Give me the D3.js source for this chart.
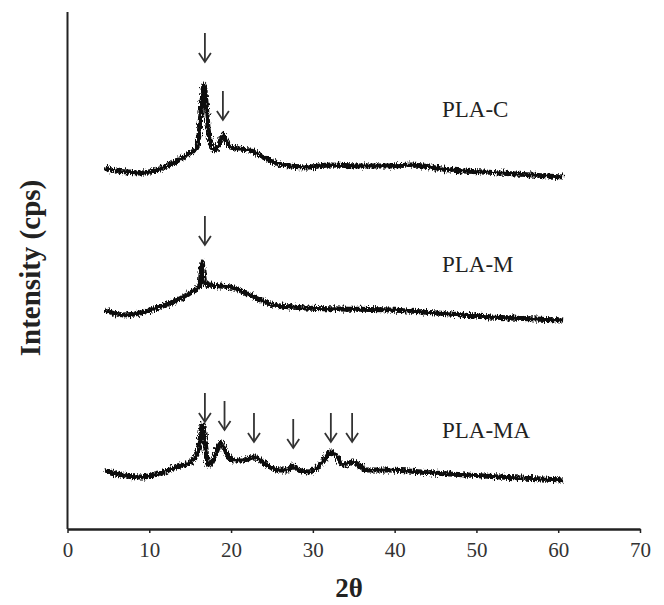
<!DOCTYPE html>
<html>
<head>
<meta charset="utf-8">
<script src="https://cdn.jsdelivr.net/npm/d3@7"></script>
<style>
  body { margin: 0; background: #fff; }
  svg { display: block; }
</style>
</head>
<body>
<svg class="xrd" width="664" height="605"></svg>
<script>
// 2theta positions and plotted intensities (arbitrary cps, stacked traces)
const plaC_x = [4.6, 6, 7.5, 8.9, 10.9, 12.9, 14, 15, 15.8, 16.2, 16.5, 16.7, 16.9, 17.2, 17.6, 17.9, 18.5, 19.0, 19.5, 19.9, 21, 22.3, 23.9, 26.3, 29.3, 32.1, 36, 39.4, 42, 46.8, 52.9, 60.6];
const plaC_y = [361, 358, 357, 356, 359, 366, 371, 376, 381, 405, 432, 444, 430, 400, 383, 379, 384, 394, 387, 382, 380, 379, 372, 364, 362, 364, 363, 363, 364, 359, 356, 352];

const plaM_x = [4.6, 6.8, 8.9, 10.9, 12.9, 15, 16.2, 16.45, 16.6, 16.8, 17.4, 19.9, 22.3, 25.2, 29.3, 33.3, 39.4, 43.5, 51.7, 60.6];
const plaM_y = [219, 214, 216, 221, 227, 236, 244, 267, 256, 246, 244, 242, 234, 224, 221, 220, 219, 217, 212, 209];

const plaMA_x = [4.6, 6, 8.9, 11, 13, 15, 15.8, 16.2, 16.5, 16.8, 17.2, 17.7, 18.2, 18.8, 19.3, 20.4, 21.5, 22.8, 24, 25.8, 27, 27.6, 28.3, 29.4, 30.5, 31.5, 32.2, 33, 33.7, 34.4, 34.9, 36.6, 39.4, 44.7, 52.9, 60.6];
const plaMA_y = [59, 55, 52, 55, 61, 67, 74, 89, 104, 89, 64, 67, 77, 86, 77, 69, 69, 72, 66, 59, 59, 63, 59, 57, 61, 71, 77, 72, 64, 66, 67, 59, 59, 56, 52, 49];

const seriesNames = ["PLA-C", "PLA-M", "PLA-MA"];
const labelLevels = [412, 257, 91];

// arrows: 2theta and intensity at the arrow tip
const arrowX = [16.8, 19.0, 16.8, 16.8, 19.2, 22.8, 27.6, 32.2, 34.8];
const arrowTip = [467, 409, 284, 107, 99, 87, 81, 87, 87];

const xTicks = [0, 10, 20, 30, 40, 50, 60, 70];

const svg = d3.select(".xrd");
const X0 = 67.5, X1 = 640, YT = 12, YB = 529;
const INK = "#0a0a0a";

const x = d3.scaleLinear().domain([0, 70]).range([X0, X1]);
const y = d3.scaleLinear().domain([0, 517]).range([YB, YT]);

// fuzzy look of the raw detector trace
const defs = svg.append("defs");
const f = defs.append("filter")
    .attr("id", "noisy")
    .attr("filterUnits", "userSpaceOnUse")
    .attr("x", 0).attr("y", 0).attr("width", 664).attr("height", 605);
f.append("feTurbulence")
    .attr("type", "fractalNoise")
    .attr("baseFrequency", "0.9 0.3")
    .attr("numOctaves", 2)
    .attr("seed", 3)
    .attr("result", "turb");
f.append("feDisplacementMap")
    .attr("in", "SourceGraphic")
    .attr("in2", "turb")
    .attr("scale", 7)
    .attr("xChannelSelector", "R")
    .attr("yChannelSelector", "G");

const line = d3.line()
    .x(d => x(d[0]))
    .y(d => y(d[1]))
    .curve(d3.curveMonotoneX);

const traces = [
    d3.zip(plaC_x, plaC_y),
    d3.zip(plaM_x, plaM_y),
    d3.zip(plaMA_x, plaMA_y)
];

svg.append("g")
    .attr("filter", "url(#noisy)")
    .selectAll("path")
    .data(traces)
    .enter()
    .append("path")
    .attr("d", line)
    .attr("fill", "none")
    .attr("stroke", INK)
    .attr("stroke-width", 5)
    .attr("stroke-linejoin", "round");

// series labels
svg.append("g")
    .selectAll("text")
    .data(seriesNames)
    .enter()
    .append("text")
    .attr("x", 442)
    .attr("y", (d, i) => y(labelLevels[i]))
    .text(d => d)
    .style("font-family", "'Liberation Serif', serif")
    .style("font-size", "23px")
    .style("fill", "#222");

// peak arrows
const arrows = svg.append("g")
    .attr("stroke", "#333")
    .attr("stroke-width", 1.8)
    .attr("fill", "none");
arrowX.forEach((a, i) => {
    const ax = x(a), ay = y(arrowTip[i]);
    arrows.append("line")
        .attr("x1", ax).attr("x2", ax)
        .attr("y1", ay - 29).attr("y2", ay);
    arrows.append("path")
        .attr("d", `M${ax - 6},${ay - 9}L${ax},${ay}L${ax + 6},${ay - 9}`);
});

// axes
svg.append("line")
    .attr("x1", X0).attr("x2", X0)
    .attr("y1", YT).attr("y2", YB)
    .attr("stroke", "#222")
    .attr("stroke-width", 2);

const xAxis = svg.append("g")
    .attr("transform", `translate(0, ${YB})`)
    .call(d3.axisBottom(x).tickValues(xTicks).tickSize(4).tickSizeOuter(0).tickFormat(d3.format("d")));
xAxis.select(".domain")
    .attr("stroke", "#222")
    .attr("stroke-width", 2.5);
xAxis.selectAll(".tick line")
    .attr("stroke", "#222")
    .attr("stroke-width", 1.5);
xAxis.selectAll(".tick text")
    .attr("y", 13)
    .style("font-family", "'Liberation Serif', serif")
    .style("font-size", "21px")
    .style("fill", "#333");

svg.append("text")
    .attr("x", 349)
    .attr("y", 597)
    .attr("text-anchor", "middle")
    .text("2θ")
    .style("font-family", "'Liberation Serif', serif")
    .style("font-weight", "bold")
    .style("font-size", "27px")
    .style("fill", "#222");

svg.append("text")
    .attr("transform", "translate(30, 268) rotate(-90)")
    .attr("text-anchor", "middle")
    .attr("dy", "0.35em")
    .text("Intensity (cps)")
    .style("font-family", "'Liberation Serif', serif")
    .style("font-weight", "bold")
    .style("font-size", "29px")
    .style("fill", "#222");
</script>
</body>
</html>
